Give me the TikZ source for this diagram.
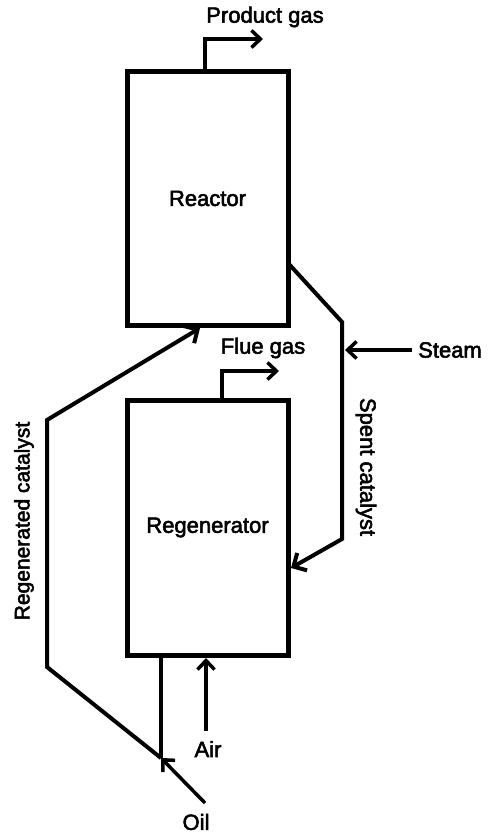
\documentclass[tikz,border=0pt]{standalone}
\usepackage{fontspec}
\setmainfont{Liberation Sans}
\newfontfamily\lblfont[FakeBold=2.5]{Liberation Sans}
\usetikzlibrary{arrows.meta}
\begin{document}
\begin{tikzpicture}[x=1pt,y=-1pt,
  vessel/.style={draw,line width=5pt,minimum width=161pt,minimum height=253pt,inner sep=0pt,font=\lblfont\fontsize{22}{26}\selectfont},
  flowline/.style={line width=4pt},
  feed/.style={line width=3.5pt,-{Straight Barb[length=9pt,width=17pt,line width=3.5pt]}},
  catarrow/.style={line width=4pt,-{Straight Barb[length=10pt,width=20pt,line width=4pt]}},
  lbl/.style={font=\lblfont\fontsize{22}{26}\selectfont,inner sep=0pt}]
\useasboundingbox (0,0) rectangle (488,834);
\node[vessel] (reactor) at (207.5,198.5) {Reactor};
\node[vessel,minimum height=255pt] (regen) at (207.5,527.5) {Regenerator};
% product gas
\coordinate (pgbase) at (205,72);
\coordinate (pgcorner) at (205,39);
\coordinate (pgend) at (263,39);
\draw[feed] (pgbase) -- (pgcorner) -- (pgend);
\node[lbl] (pgtext) at (265,17) {Product gas};
% flue gas
\coordinate (fgbase) at (222,400);
\coordinate (fgcorner) at (222,371);
\coordinate (fgend) at (279,371);
\draw[feed] (fgbase) -- (fgcorner) -- (fgend);
\node[lbl] (fgtext) at (263,348) {Flue gas};
% spent catalyst
\coordinate (sc0) at (288,263);
\coordinate (sc1) at (342,322);
\coordinate (sc2) at (342,539);
\coordinate (sc3) at (291,568);
\draw[catarrow] (sc0) -- (sc1) -- (sc2) -- (sc3);
\node[lbl,rotate=-90] (sctext) at (366,467) {Spent catalyst};
% steam
\node[lbl,anchor=west] (steamtext) at (418,350) {Steam};
\coordinate (steamtip) at (345,350);
\draw[feed] (412,350) -- (steamtip);
% regenerated catalyst
\coordinate (rc0) at (161,655);
\coordinate (rc1) at (161,758);
\coordinate (rc2) at (47,667);
\coordinate (rc3) at (47,420);
\coordinate (rc4) at (200,328);
\draw[flowline] (rc0) -- (rc1);
\draw[catarrow] (rc1) -- (rc2) -- (rc3) -- (rc4);
\node[lbl,rotate=90] (rctext) at (24,521) {\fontsize{21}{25}\selectfont Regenerated catalyst};
% oil
\coordinate (oilstart) at (205,803);
\draw[feed] (oilstart) -- (rc1);
\node[lbl] (oiltext) at (196,822) {Oil};
% air
\coordinate (airstart) at (206,731);
\coordinate (airtip) at (206,658);
\draw[feed] (airstart) -- (airtip);
\node[lbl] (airtext) at (208,749) {Air};
\end{tikzpicture}
\end{document}
